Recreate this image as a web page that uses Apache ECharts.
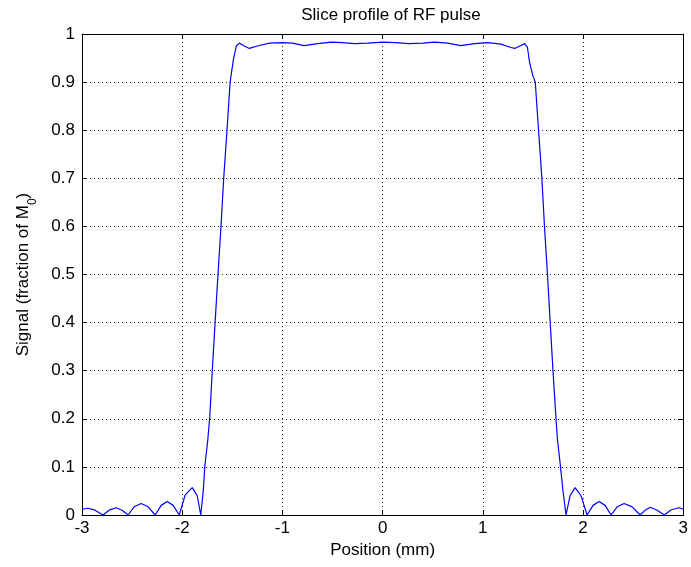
<!DOCTYPE html>
<html>
<head>
<meta charset="utf-8">
<script src="https://cdn.jsdelivr.net/npm/echarts@6/dist/echarts.min.js"></script>
<style>html,body{margin:0;padding:0;background:#fff}#c{width:691px;height:567px}</style>
</head>
<body>
<div id="c"></div>
<script>
var titleText = 'Slice profile of RF pulse';
var xName = 'Position (mm)';
var xTicks = [-3, -2, -1, 0, 1, 2, 3];
var yTicks = [0, 0.1, 0.2, 0.3, 0.4, 0.5, 0.6, 0.7, 0.8, 0.9, 1];
var positions = [
  -3.0, -2.94, -2.87, -2.79, -2.73, -2.66, -2.60, -2.54, -2.48, -2.41, -2.34, -2.27,
  -2.21, -2.15, -2.09, -2.03, -1.97, -1.90, -1.85, -1.815, -1.79, -1.775, -1.745, -1.725,
  -1.70, -1.672, -1.643, -1.613, -1.586, -1.553, -1.522, -1.49, -1.46, -1.43, -1.38, -1.33,
  -1.25, -1.13, -1.0, -0.90, -0.785, -0.65, -0.51, -0.40, -0.28, -0.15, 0.0, 0.13,
  0.26, 0.40, 0.52, 0.65, 0.78, 0.92, 1.05, 1.18, 1.28, 1.318, 1.38, 1.417,
  1.445, 1.467, 1.50, 1.523, 1.556, 1.589, 1.615, 1.645, 1.672, 1.70, 1.73, 1.745,
  1.775, 1.80, 1.83, 1.87, 1.92, 1.98, 2.04, 2.10, 2.16, 2.22, 2.28, 2.34,
  2.41, 2.49, 2.57, 2.62, 2.67, 2.74, 2.81, 2.88, 2.96, 3.0
];
var signal = [
  0.012, 0.014, 0.010, 0.0, 0.010, 0.015, 0.010, 0.0, 0.017, 0.024, 0.017, 0.0,
  0.020, 0.028, 0.020, 0.0, 0.042, 0.057, 0.040, 0.0, 0.05, 0.10, 0.156, 0.204,
  0.30, 0.40, 0.50, 0.60, 0.70, 0.80, 0.90, 0.946, 0.975, 0.981, 0.975, 0.970,
  0.975, 0.981, 0.982, 0.981, 0.976, 0.980, 0.983, 0.982, 0.980, 0.981, 0.983, 0.982,
  0.980, 0.981, 0.983, 0.981, 0.976, 0.980, 0.982, 0.979, 0.972, 0.970, 0.976, 0.980,
  0.972, 0.94, 0.913, 0.90, 0.80, 0.70, 0.60, 0.50, 0.40, 0.30, 0.20, 0.156,
  0.10, 0.05, 0.0, 0.040, 0.057, 0.040, 0.0, 0.020, 0.028, 0.020, 0.0, 0.017,
  0.024, 0.017, 0.0, 0.010, 0.016, 0.010, 0.0, 0.011, 0.015, 0.012
];

var pts = positions.map(function (x, i) { return [x, signal[i]]; });
var font = 'Liberation Sans, Arial, sans-serif';
var fs = 17;
var chart = echarts.init(document.getElementById('c'), null, {renderer: 'canvas'});
var tickCommon = {show: true, inside: true, length: 5, lineStyle: {color: '#000', width: 1}};
chart.setOption({
  animation: false,
  backgroundColor: '#fff',
  title: {
    text: titleText, left: 386, top: 2, textAlign: 'center',
    textStyle: {fontFamily: font, fontSize: fs, fontWeight: 'normal', color: '#000'}
  },
  grid: {left: 82, right: 5, top: 34, bottom: 52, containLabel: false},
  xAxis: [{
    type: 'value', min: xTicks[0], max: xTicks[xTicks.length - 1], interval: 1,
    position: 'bottom',
    name: xName, nameLocation: 'middle', nameGap: 27,
    nameTextStyle: {fontFamily: font, fontSize: fs, color: '#000'},
    axisLine: {show: true, onZero: false, lineStyle: {color: '#000', width: 1}},
    axisTick: tickCommon,
    axisLabel: {fontFamily: font, fontSize: fs, color: '#000', margin: 5},
    splitLine: {show: true, lineStyle: {color: '#222', type: [1, 3], width: 1}}
  }, {
    type: 'value', min: xTicks[0], max: xTicks[xTicks.length - 1], interval: 1,
    position: 'top',
    axisLine: {show: true, onZero: false, lineStyle: {color: '#000', width: 1}},
    axisTick: tickCommon, axisLabel: {show: false}, splitLine: {show: false}
  }],
  yAxis: [{
    type: 'value', min: yTicks[0], max: yTicks[yTicks.length - 1], interval: 0.1,
    position: 'left',
    name: '{a|Signal (fraction of M}{s|0}{a|)}', nameLocation: 'middle', nameGap: 50,
    nameRotate: 90,
    nameTextStyle: {
      rich: {
        a: {fontFamily: font, fontSize: fs, color: '#000'},
        s: {fontFamily: font, fontSize: 12, color: '#000', verticalAlign: 'bottom', padding: [0, 0, -7, 0]}
      }
    },
    axisLine: {show: true, onZero: false, lineStyle: {color: '#000', width: 1}},
    axisTick: tickCommon,
    axisLabel: {fontFamily: font, fontSize: fs, color: '#000', margin: 7},
    splitLine: {show: true, lineStyle: {color: '#222', type: [1, 3], width: 1}}
  }, {
    type: 'value', min: yTicks[0], max: yTicks[yTicks.length - 1], interval: 0.1,
    position: 'right',
    axisLine: {show: true, onZero: false, lineStyle: {color: '#000', width: 1}},
    axisTick: tickCommon, axisLabel: {show: false}, splitLine: {show: false}
  }],
  series: [{
    type: 'line', data: pts, xAxisIndex: 0, yAxisIndex: 0,
    showSymbol: false, smooth: false,
    lineStyle: {color: '#0000ff', width: 1.2},
    z: 5
  }]
});
</script>
</body>
</html>
